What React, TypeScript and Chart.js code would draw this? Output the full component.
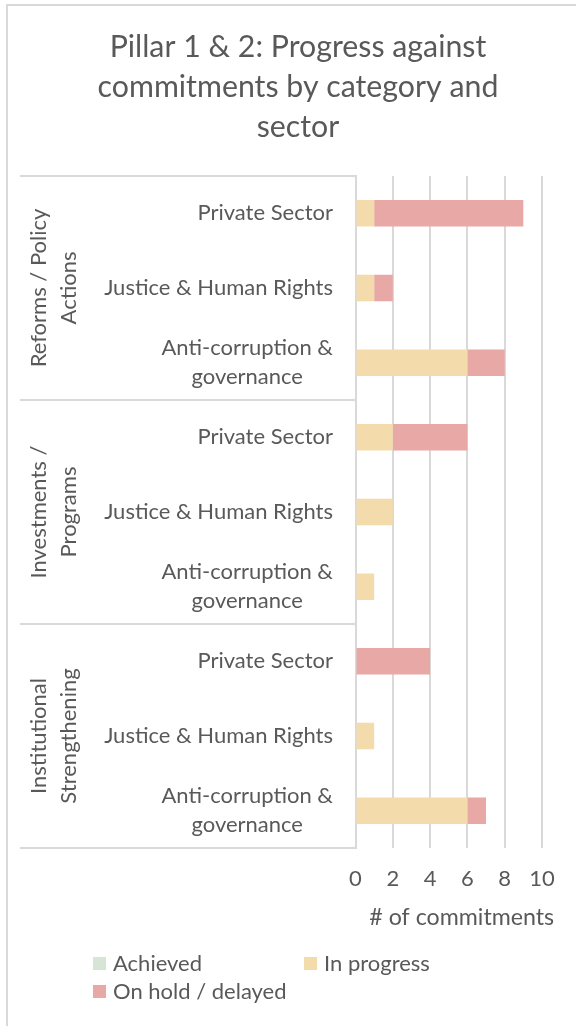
import React, { useEffect, useRef } from 'react';
import { Chart, registerables } from 'chart.js';

Chart.register(...registerables);

// ---------- data ----------
const titleLines = ['Pillar 1 & 2: Progress against', 'commitments by category and', 'sector'];
const groupLabels = [
  ['Reforms / Policy', 'Actions'],
  ['Investments /', 'Programs'],
  ['Institutional', 'Strengthening'],
];
const categoryLabels = [
  ['Private Sector'],
  ['Justice & Human Rights'],
  ['Anti-corruption &', 'governance'],
  ['Private Sector'],
  ['Justice & Human Rights'],
  ['Anti-corruption &', 'governance'],
  ['Private Sector'],
  ['Justice & Human Rights'],
  ['Anti-corruption &', 'governance'],
];
const categoryGroup = [0, 0, 0, 1, 1, 1, 2, 2, 2];
const achieved = [0, 0, 0, 0, 0, 0, 0, 0, 0];
const inProgress = [1, 1, 6, 2, 2, 1, 0, 1, 6];
const onHold = [8, 1, 2, 4, 0, 0, 4, 0, 1];
const xTicks = [0, 2, 4, 6, 8, 10];
const xAxisTitle = '# of commitments';
const seriesNames = ['Achieved', 'In progress', 'On hold / delayed'];

// ---------- styles ----------
const FONT = 'Lato, "Open Sans", sans-serif';
const TEXT = '#595959';
const LINE = '#d9d9d9';
const COLORS = ['#d5e6d6', '#f3dbac', '#e8a8a5'];

const decorPlugin = {
  id: 'decor',
  afterDraw(chart: any) {
    const { ctx, chartArea } = chart;
    const y = chart.scales.y;
    ctx.save();

    // outer frame (top and left edges visible)
    ctx.strokeStyle = LINE;
    ctx.lineWidth = 2;
    ctx.beginPath();
    ctx.moveTo(7, 1200);
    ctx.lineTo(7, 5);
    ctx.lineTo(700, 5);
    ctx.stroke();

    const slot = y.getPixelForValue(1) - y.getPixelForValue(0);

    // group separator lines
    ctx.strokeStyle = LINE;
    ctx.lineWidth = 2;
    const bounds: number[] = [];
    for (let i = 0; i < categoryGroup.length; i++) {
      if (i === 0 || categoryGroup[i] !== categoryGroup[i - 1]) {
        bounds.push(y.getPixelForValue(i) - slot / 2);
      }
    }
    bounds.push(y.getPixelForValue(categoryGroup.length - 1) + slot / 2);
    bounds.forEach((b) => {
      const yy = Math.round(b);
      ctx.beginPath();
      ctx.moveTo(20, yy);
      ctx.lineTo(chartArea.left, yy);
      ctx.stroke();
    });

    // category labels (block right-aligned, lines centred)
    ctx.fillStyle = TEXT;
    ctx.font = `22px ${FONT}`;
    ctx.textBaseline = 'middle';
    ctx.textAlign = 'center';
    const rightEdge = chartArea.left - 22.5;
    const lh = 29;
    categoryLabels.forEach((lines, i) => {
      const cy = y.getPixelForValue(i);
      const w = Math.max(...lines.map((l) => ctx.measureText(l).width));
      const cx = rightEdge - w / 2;
      lines.forEach((l, j) => {
        ctx.fillText(l, cx, cy + (j - (lines.length - 1) / 2) * lh);
      });
    });

    // group labels (rotated)
    groupLabels.forEach((lines, g) => {
      const idx = categoryGroup.filter((c) => c < g).length;
      const n = categoryGroup.filter((c) => c === g).length;
      const top = y.getPixelForValue(idx) - slot / 2;
      const cy = top + (n * slot) / 2;
      ctx.save();
      ctx.translate(54, cy);
      ctx.rotate(-Math.PI / 2);
      ctx.textAlign = 'center';
      ctx.textBaseline = 'middle';
      lines.forEach((l, j) => {
        ctx.fillText(l, 0, (j - (lines.length - 1) / 2) * 30);
      });
      ctx.restore();
    });

    // x axis title
    ctx.font = `23.2px ${FONT}`;
    ctx.textAlign = 'center';
    ctx.fillText(xAxisTitle, (chartArea.left + chartArea.right) / 2 + 13, chartArea.bottom + 70);

    // legend
    const legendPos = [
      [93, 957],
      [304, 957],
      [93, 985],
    ];
    ctx.font = `22px ${FONT}`;
    ctx.textAlign = 'left';
    chart.data.datasets.forEach((ds: any, i: number) => {
      const [lx, ly] = legendPos[i];
      ctx.fillStyle = ds.backgroundColor;
      ctx.fillRect(lx, ly, 13, 13);
      ctx.fillStyle = TEXT;
      ctx.fillText(ds.label, lx + 20, ly + 7);
    });

    ctx.restore();
  },
};

export default function App() {
  const ref = useRef<HTMLCanvasElement>(null);

  useEffect(() => {
    document.body.style.margin = '0';
    const canvas = ref.current;
    if (!canvas) return;
    const chart = new Chart(canvas, {
      type: 'bar',
      data: {
        labels: categoryLabels,
        datasets: [
          { label: seriesNames[0], data: achieved, backgroundColor: COLORS[0] },
          { label: seriesNames[1], data: inProgress, backgroundColor: COLORS[1] },
          { label: seriesNames[2], data: onHold, backgroundColor: COLORS[2] },
        ],
      },
      options: {
        indexAxis: 'y',
        responsive: false,
        animation: false,
        devicePixelRatio: 1,
        events: [],
        datasets: { bar: { categoryPercentage: 1, barPercentage: 0.355 } },
        layout: { padding: { top: 4, left: 54, right: 34, bottom: 118 } },
        plugins: {
          legend: { display: false },
          tooltip: { enabled: false },
          title: {
            display: true,
            text: titleLines,
            color: TEXT,
            font: { family: FONT, size: 30.3, weight: 'normal', lineHeight: '40px' },
            padding: { top: 23, bottom: 29 },
          },
        },
        scales: {
          x: {
            stacked: true,
            min: 0,
            max: 10,
            afterBuildTicks: (s: any) => {
              s.ticks = xTicks.map((v) => ({ value: v }));
            },
            afterFit: (s: any) => {
              s.height = 60;
            },
            ticks: { color: TEXT, font: { family: FONT, size: 22 }, padding: 18 },
            grid: { color: LINE, lineWidth: 2, drawTicks: false },
            border: { display: false },
          },
          y: {
            stacked: true,
            offset: true,
            afterFit: (s: any) => {
              s.width = 301.5;
            },
            ticks: { display: false },
            grid: { display: false, drawTicks: false },
            border: { display: true, color: LINE, width: 2 },
          },
        },
      },
      plugins: [decorPlugin],
    } as any);
    return () => chart.destroy();
  }, []);

  return <canvas ref={ref} width={576} height={1026} style={{ display: 'block' }} />;
}
